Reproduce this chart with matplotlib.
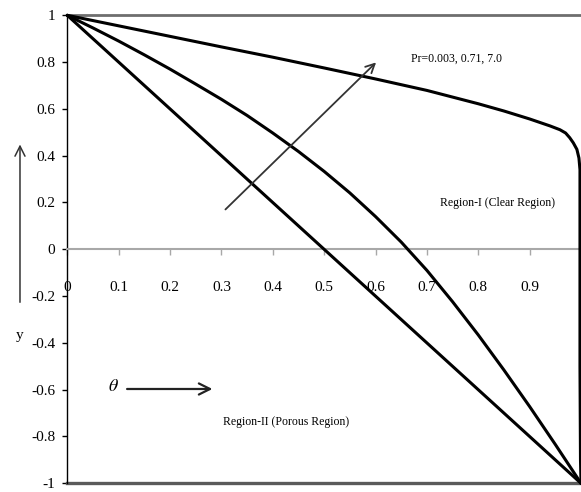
import matplotlib
matplotlib.use("Agg")
import matplotlib.pyplot as plt
from matplotlib.patches import FancyArrowPatch

# theta vs y for the three Prandtl numbers
theta_pr0003 = [0.0, 0.25, 0.5, 0.75, 1.0]
y_pr0003 = [1.0, 0.5, 0.0, -0.5, -1.0]

theta_pr071 = [0.0, 0.05, 0.1, 0.15, 0.2, 0.25, 0.3, 0.35, 0.4, 0.45, 0.5,
               0.55, 0.6, 0.65, 0.7, 0.75, 0.8, 0.85, 0.9, 0.95, 1.0]
y_pr071 = [1.0, 0.946, 0.89, 0.831, 0.77, 0.706, 0.641, 0.572, 0.497, 0.418, 0.333,
           0.241, 0.14, 0.031, -0.09, -0.224, -0.366, -0.516, -0.672, -0.834, -1.0]

theta_pr7 = [0.0, 0.1, 0.2, 0.3, 0.4, 0.5, 0.6, 0.7, 0.8, 0.85, 0.9, 0.92, 0.94,
             0.959, 0.97, 0.978, 0.985, 0.992, 0.996, 0.998, 0.998, 0.998, 0.999, 1.0]
y_pr7 = [1.0, 0.955, 0.91, 0.865, 0.821, 0.775, 0.728, 0.679, 0.622, 0.591, 0.557,
         0.542, 0.527, 0.511, 0.497, 0.477, 0.455, 0.427, 0.39, 0.34, 0.2, -0.5, -0.9, -1.0]

x_ticks = [0, 0.1, 0.2, 0.3, 0.4, 0.5, 0.6, 0.7, 0.8, 0.9]
x_labels = ["0", "0.1", "0.2", "0.3", "0.4", "0.5", "0.6", "0.7", "0.8", "0.9"]
y_ticks = [1, 0.8, 0.6, 0.4, 0.2, 0, -0.2, -0.4, -0.6, -0.8, -1]
y_labels = ["1", "0.8", "0.6", "0.4", "0.2", "0", "-0.2", "-0.4", "-0.6", "-0.8", "-1"]

plt.rcParams["font.family"] = ["Liberation Serif", "DejaVu Serif"]
plt.rcParams["mathtext.fontset"] = "stix"

fig = plt.figure(figsize=(5.81, 4.92), dpi=100)
ax = fig.add_axes([0.1158, 0.0177, 0.8842, 0.9512])

for th, yy in [(theta_pr0003, y_pr0003), (theta_pr071, y_pr071), (theta_pr7, y_pr7)]:
    ax.plot(th, yy, color="black", lw=2.2, solid_joinstyle="round",
            solid_capstyle="round", clip_on=False, zorder=3)

ax.set_xlim(0, 1)
ax.set_ylim(-1, 1)

# frame: gray top/bottom, black left, gray axis through zero
ax.spines["right"].set_visible(False)
ax.spines["top"].set_color("#6e6e6e")
ax.spines["top"].set_linewidth(2.0)
ax.spines["left"].set_color("black")
ax.spines["left"].set_linewidth(1.0)
ax.spines["bottom"].set_position(("data", 0))
ax.spines["bottom"].set_color("#a8a8a8")
ax.spines["bottom"].set_linewidth(1.5)
ax.axhline(-1, color="#5a5a5a", lw=2.4, clip_on=False, zorder=2)

ax.set_xticks(x_ticks)
ax.set_xticklabels(x_labels)
ax.set_yticks(y_ticks)
ax.set_yticklabels(y_labels)
ax.tick_params(axis="x", direction="out", length=4, width=1, color="#a8a8a8",
               pad=19, labelsize=11)
ax.tick_params(axis="y", direction="out", length=3.6, width=1, color="black",
               pad=5, labelsize=11)

# Pr arrow
ax.annotate("", xy=(0.605, 0.807), xytext=(0.304, 0.162),
            arrowprops=dict(arrowstyle="->", color="#333333", lw=1.3, mutation_scale=16))
ax.text(0.67, 0.814, "Pr=0.003, 0.71, 7.0", fontsize=8.5, ha="left", va="center")
ax.text(0.837, 0.198, "Region-I (Clear Region)", fontsize=8.5, ha="center", va="center")
ax.text(0.426, -0.738, "Region-II (Porous Region)", fontsize=8.5, ha="center", va="center")

# theta direction arrow
ax.text(0.0896, -0.588, r"$\theta$", fontsize=13, ha="center", va="center")
ax.annotate("", xy=(0.288, -0.597), xytext=(0.111, -0.597),
            arrowprops=dict(arrowstyle="->", color="#222222", lw=1.6, mutation_scale=20))

# y direction arrow outside the axes
fig.patches.append(FancyArrowPatch(
    (0.0344, 0.380), (0.0344, 0.712), transform=fig.transFigure,
    arrowstyle="->", color="#333333", lw=1.1, mutation_scale=18))
fig.text(0.0344, 0.319, "y", fontsize=11, ha="center", va="center")

fig.savefig("out.png", dpi=100)
